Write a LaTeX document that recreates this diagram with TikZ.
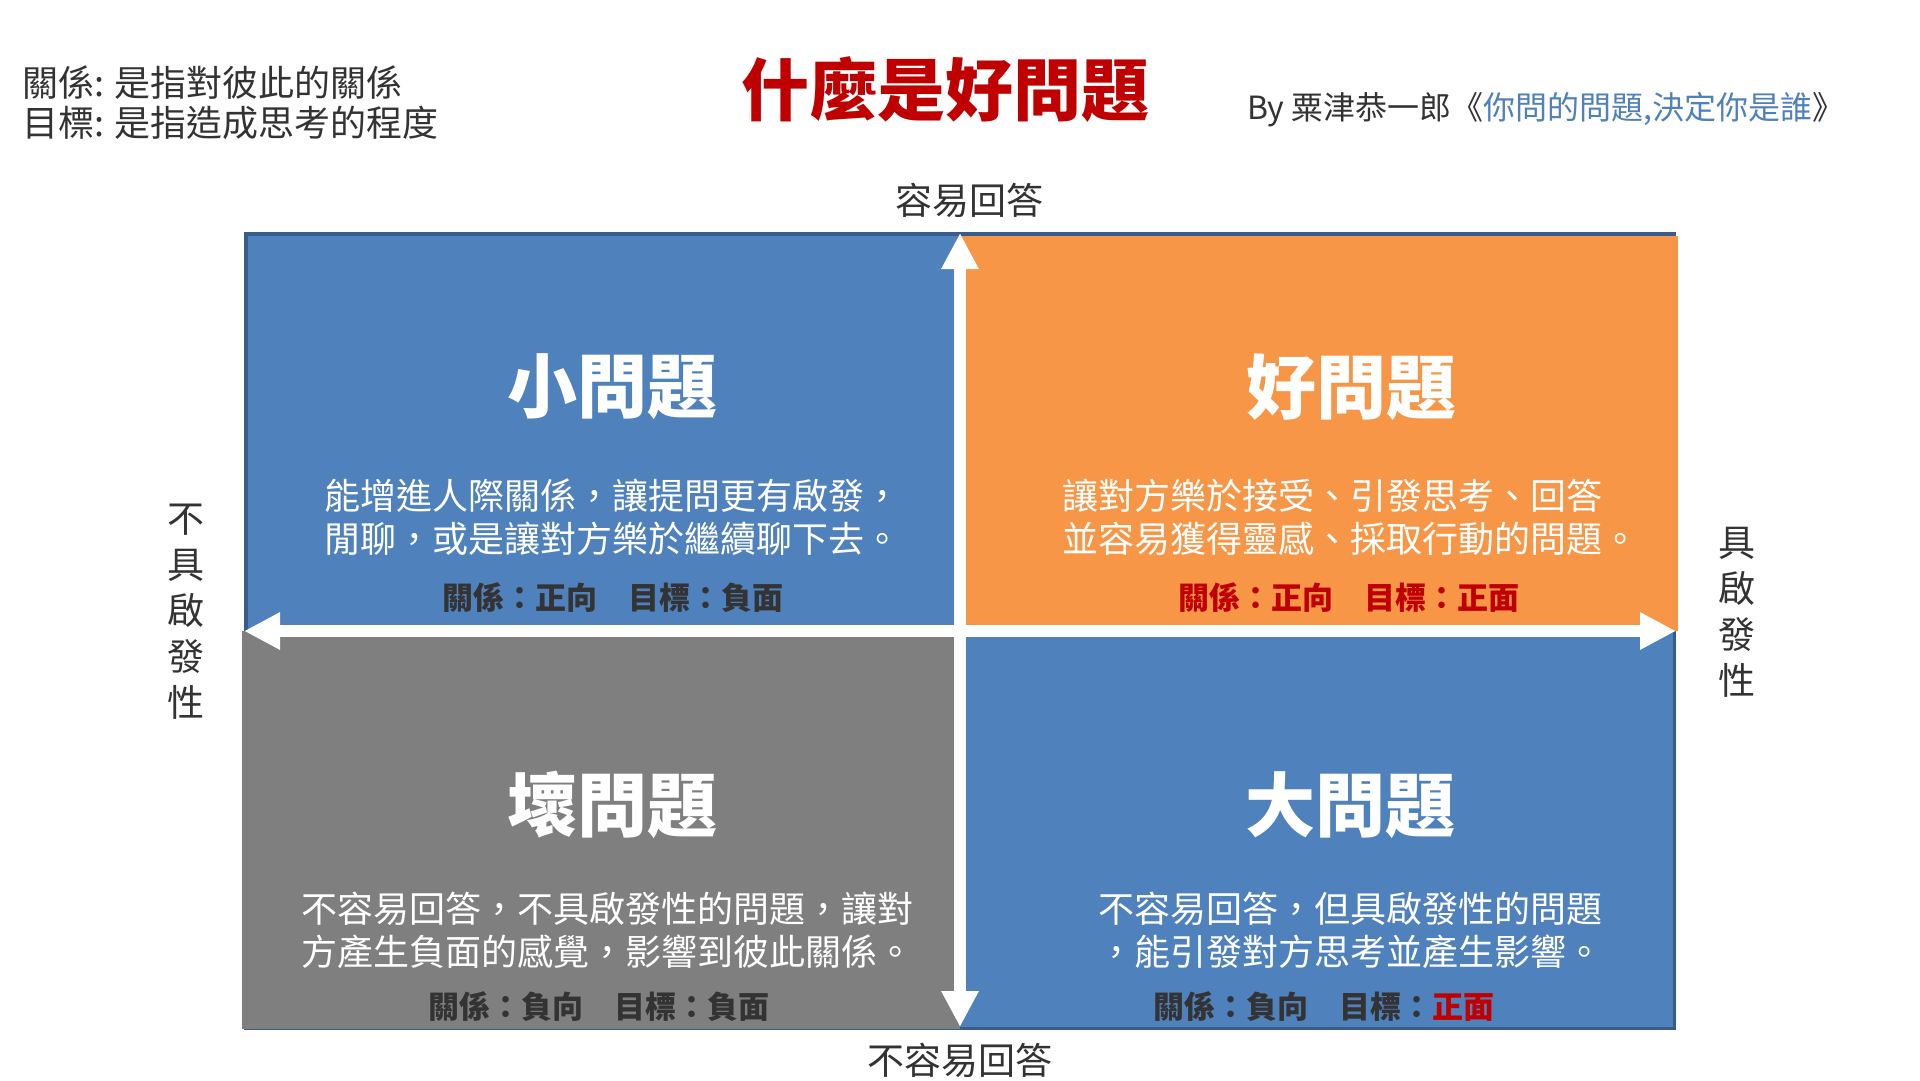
\documentclass[tikz,border=0pt]{standalone}
\usepackage{fontspec}
\usetikzlibrary{arrows.meta}
\setmainfont{Noto Sans CJK TC}
\definecolor{qblue}{HTML}{4F81BD}
\definecolor{qborder}{HTML}{385D8A}
\definecolor{qorange}{HTML}{F79646}
\definecolor{qgray}{HTML}{7F7F7F}
\definecolor{titlered}{HTML}{C00000}
\definecolor{darktext}{HTML}{333333}

\begin{document}
\begin{tikzpicture}[x=1pt, y=-1pt, every node/.style={inner sep=0pt},
        heading/.style={text=white, font=\fontsize{70}{80}\selectfont\bfseries},
        body/.style={text=white, align=left, font=\fontsize{36}{43}\selectfont},
        rel/.style={text=darktext, font=\fontsize{31}{36}\selectfont\bfseries},
        axislabel/.style={text=darktext, align=center, font=\fontsize{37}{46}\selectfont},
        axisarrow/.style={draw=white, line width=12pt, {Triangle[length=36pt,width=35pt]}-{Triangle[length=36pt,width=35pt]}}]
            \useasboundingbox[fill=white] (0,0) rectangle (1920,1080);
            \draw[fill=qblue, draw=qborder, line width=3.5pt] (245.75,233.75) rectangle (1674.25,1028.25);
            \fill[qorange] (960,235.5) rectangle (1678,631);
            \fill[qgray] (242,631) rectangle (960,1029);
            \coordinate (west) at (244,631);
            \coordinate (east) at (1676,631);
            \coordinate (north) at (960,233);
            \coordinate (south) at (960,1027);
            \draw[axisarrow] (west) -- (east);
            \draw[axisarrow] (south) -- (north);
            \node[anchor=west, align=left, text=darktext, font=\fontsize{36}{40}\selectfont] (notes) at (22,103) {關係: 是指對彼此的關係\\目標: 是指造成思考的程度};
            \node[text=titlered, font=\fontsize{68}{80}\selectfont\bfseries] (title) at (945,90) {什麼是好問題};
            \node[anchor=west, text=darktext, font=\fontsize{32}{36}\selectfont] (byline) at (1247,110) {By 粟津恭一郎《\textcolor{qblue}{你問的問題,決定你是誰}》};
            \node[axislabel] (easy) at (969,200) {容易回答};
            \node[axislabel] (hard) at (960,1060) {不容易回答};
            \node[axislabel] (noinsp) at (186,612) {不\\具\\啟\\發\\性};
            \node[axislabel] (insp) at (1737,612) {具\\啟\\發\\性};
            \node[heading] (smallh) at (612,387) {小問題};
            \node[body] (smallb) at (612,517) {能增進人際關係，讓提問更有啟發，\\閒聊，或是讓對方樂於繼續聊下去。};
            \node[rel] (smallr) at (613,598) {關係：正向　目標：負面};
            \node[heading] (goodh) at (1351,387) {好問題};
            \node[body] (goodb) at (1350,517) {讓對方樂於接受、引發思考、回答\\並容易獲得靈感、採取行動的問題。};
            \node[rel, text=titlered] (goodr) at (1349,598) {關係：正向　目標：正面};
            \node[heading] (badh) at (612,805) {壞問題};
            \node[body] (badb) at (607,930) {不容易回答，不具啟發性的問題，讓對\\方產生負面的感覺，影響到彼此關係。};
            \node[rel] (badr) at (599,1007) {關係：負向　目標：負面};
            \node[heading] (bigh) at (1350,805) {大問題};
            \node[body] (bigb) at (1350,930) {不容易回答，但具啟發性的問題\\，能引發對方思考並產生影響。};
            \node[rel] (bigr) at (1324,1007) {關係：負向　目標：\textcolor{titlered}{正面}};
        \end{tikzpicture}
\end{document}
